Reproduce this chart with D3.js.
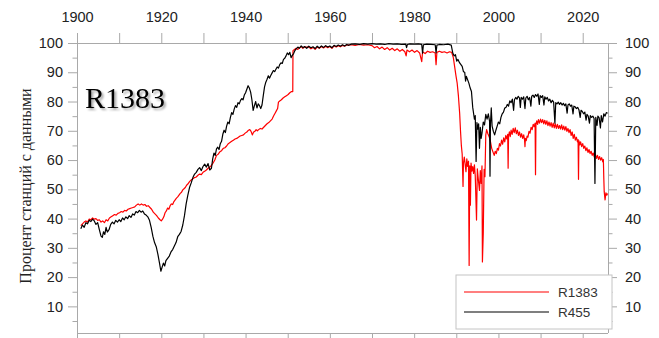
<!DOCTYPE html>
<html><head><meta charset="utf-8">
<script src="https://cdn.jsdelivr.net/npm/d3@7"></script>
<style>
html,body{margin:0;padding:0;background:#fff;}
svg{display:block;}
</style>
</head><body>
<svg id="chart" width="659" height="338"></svg>
<script>
// ---- data ----
const yearsR455 = [1900.9,1901.3,1901.7,1902.1,1902.5,1902.9,1903.3,1903.7,1904.1,1904.5,1904.9,1905.3,1905.7,1906.0,1906.3,1906.6,1906.9,1907.2,1907.6,1908.0,1908.4,1908.8,1909.2,1909.6,1910.0,1910.4,1910.8,1911.2,1911.6,1912.0,1912.4,1912.8,1913.2,1913.6,1914.0,1914.4,1914.8,1915.2,1915.6,1916.0,1916.4,1916.8,1917.2,1917.6,1918.0,1918.4,1918.8,1919.2,1919.6,1919.9,1920.2,1920.5,1920.8,1921.1,1921.5,1921.9,1922.3,1922.7,1923.1,1923.5,1923.9,1924.3,1924.7,1925.1,1925.5,1925.9,1926.3,1926.7,1927.1,1927.5,1927.9,1928.3,1928.7,1929.1,1929.5,1929.9,1930.3,1930.7,1931.1,1931.5,1931.9,1932.2,1932.5,1932.8,1933.1,1933.4,1933.7,1934.0,1934.3,1934.6,1934.9,1935.2,1935.5,1935.8,1936.1,1936.4,1936.7,1937.0,1937.3,1937.6,1937.9,1938.2,1938.5,1938.8,1939.1,1939.4,1939.7,1940.0,1940.3,1940.6,1940.9,1941.2,1941.5,1941.8,1942.1,1942.4,1942.7,1943.0,1943.3,1943.6,1943.9,1944.2,1944.5,1944.8,1945.1,1945.4,1945.7,1946.0,1946.3,1946.6,1946.9,1947.2,1947.5,1947.8,1948.1,1948.4,1948.7,1949.0,1949.3,1949.6,1949.9,1950.2,1950.5,1950.8,1951.1,1951.4,1951.7,1952.0,1952.4,1952.8,1953.2,1953.6,1954.0,1954.5,1955.0,1955.5,1956.0,1956.5,1957.0,1957.5,1958.0,1958.5,1959.0,1959.5,1960.0,1960.5,1961.0,1961.5,1962.0,1962.5,1963.0,1963.5,1964.0,1964.5,1965.0,1966,1967,1968,1969,1970,1971,1972,1973,1974,1975,1976,1977,1978,1978.2,1978.4,1979,1980,1981,1981.8,1982.0,1982.2,1983,1984,1985.0,1985.2,1985.4,1986,1987,1988,1988.8,1989.2,1989.5,1989.8,1990.1,1990.4,1990.8,1991.1,1991.4,1991.7,1992.0,1992.2,1992.4,1992.7,1993.0,1993.3,1993.6,1993.9,1994.1,1994.3,1994.5,1994.7,1994.9,1995.1,1995.3,1995.5,1995.7,1995.9,1996.1,1996.4,1996.7,1997.0,1997.3,1997.6,1997.9,1998.0,1998.1,1998.3,1998.5,1998.8,1999.1,1999.4,1999.7,2000.0,2000.3,2000.6,2000.9,2001.2,2001.5,2001.8,2002.1,2002.4,2002.7,2003.0,2003.3,2003.6,2003.8,2004.1,2004.4,2004.7,2005.0,2005.2,2005.4,2005.7,2006.0,2006.3,2006.5,2006.8,2007.1,2007.4,2007.7,2007.9,2008.2,2008.5,2008.8,2009.1,2009.4,2009.7,2009.9,2010.2,2010.5,2010.8,2011.0,2011.3,2011.6,2011.9,2012.2,2012.5,2012.8,2013.1,2013.4,2013.6,2013.9,2014.2,2014.5,2014.8,2015.1,2015.4,2015.7,2016.0,2016.3,2016.5,2016.8,2017.1,2017.4,2017.7,2017.9,2018.2,2018.5,2018.8,2019.1,2019.4,2019.6,2019.9,2020.2,2020.5,2020.8,2021.0,2021.3,2021.6,2021.8,2022.1,2022.4,2022.7,2022.9,2023.1,2023.4,2023.6,2023.9,2024.2,2024.4,2024.7,2025.0,2025.3,2025.6,2025.9];
const valuesR455 = [36.5,37.8,37.0,38.6,38.2,39.4,39.0,39.8,39.2,38.0,38.6,36.2,34.0,33.6,35.5,34.6,37.0,35.4,36.2,38.0,38.8,38.2,39.4,38.8,39.6,39.0,40.2,39.6,40.6,40.0,41.0,40.4,41.6,41.2,42.4,42.0,42.8,42.2,42.6,41.6,41.2,40.6,39.4,37.0,34.0,31.8,30.4,27.8,24.6,22.0,23.4,24.8,23.8,25.6,26.4,27.2,28.6,29.4,30.6,31.8,33.8,34.6,35.6,37.8,41.0,45.0,48.0,50.6,52.2,54.0,55.2,55.8,56.8,57.4,56.4,57.8,58.6,57.6,58.8,56.6,57.2,60.4,62.4,61.6,63.8,64.4,63.6,65.6,66.4,68.8,70.2,69.4,71.6,73.0,72.4,74.6,76.2,75.6,77.4,78.6,78.0,79.6,79.2,80.4,81.0,80.6,82.2,83.0,84.2,85.4,84.6,83.2,80.6,77.0,78.6,80.0,77.8,79.2,78.6,77.6,78.8,82.0,85.0,86.6,87.6,88.8,88.0,89.0,89.8,90.6,90.2,91.0,91.8,91.4,92.6,93.2,93.0,94.4,94.8,95.6,96.6,96.0,96.8,95.0,95.8,96.4,97.4,98.0,98.6,98.2,99.0,98.4,98.8,98.2,98.9,98.4,98.7,98.1,98.9,98.3,99.0,98.5,99.1,98.6,99.0,98.4,99.2,98.8,99.3,98.9,99.4,99.0,99.5,99.2,99.6,99.7,99.5,99.8,99.6,99.8,99.6,99.7,99.5,99.8,99.6,99.7,99.5,99.6,98.4,99.5,99.7,99.6,99.7,99.5,96.5,99.4,99.6,99.5,99.4,96.6,99.3,99.5,99.4,99.6,99.3,96.4,95.6,96.0,93.8,94.4,93.2,92.6,92.0,90.2,90.0,87.0,88.6,87.4,86.2,84.6,83.4,78.0,76.0,74.0,75.2,59.5,72.8,70.6,72.4,64.0,71.2,67.4,69.2,73.0,72.0,75.6,74.0,75.8,73.2,54.5,72.0,77.8,71.6,69.8,68.6,70.2,71.6,73.0,72.4,74.6,75.8,76.4,77.8,78.0,79.0,78.4,80.2,79.6,80.8,77.0,80.6,81.4,80.8,81.8,81.2,78.0,81.4,80.8,81.6,77.6,81.2,81.8,80.6,81.4,78.4,81.8,82.2,81.4,82.4,81.8,82.6,79.0,82.0,81.4,82.0,78.8,81.6,80.8,81.4,80.2,80.8,79.6,80.4,79.8,72.6,79.6,79.2,79.8,79.0,79.6,78.8,79.4,78.6,79.2,76.0,78.8,79.2,78.4,78.8,75.8,78.4,78.2,77.6,78.0,77.2,74.6,77.0,76.6,75.8,76.4,73.6,75.6,75.0,72.6,75.2,74.6,75.0,74.2,52.0,74.6,71.8,75.0,74.4,71.0,75.2,73.0,75.8,75.0,76.2,76.0];

const yearsR1383 = [1900.9,1901.3,1901.7,1902.1,1902.5,1902.9,1903.3,1903.7,1904.1,1904.5,1904.9,1905.3,1905.7,1906.1,1906.5,1906.9,1907.3,1907.7,1908.1,1908.5,1908.9,1909.3,1909.7,1910.1,1910.5,1910.9,1911.3,1911.7,1912.1,1912.5,1912.9,1913.3,1913.7,1914.1,1914.5,1914.9,1915.3,1915.7,1916.1,1916.5,1916.9,1917.3,1917.7,1918.1,1918.5,1918.9,1919.3,1919.7,1920.0,1920.3,1920.6,1920.9,1921.2,1921.5,1921.8,1922.1,1922.4,1922.7,1923.0,1923.3,1923.6,1923.9,1924.2,1924.5,1924.8,1925.1,1925.4,1925.7,1926.0,1926.3,1926.7,1927.1,1927.5,1927.9,1928.3,1928.7,1929.1,1929.5,1929.9,1930.3,1930.7,1931.1,1931.5,1931.9,1932.3,1932.7,1933.1,1933.5,1933.9,1934.3,1934.7,1935.1,1935.5,1935.9,1936.3,1936.7,1937.1,1937.5,1937.9,1938.3,1938.7,1939.1,1939.5,1939.9,1940.3,1940.7,1941.0,1941.3,1941.6,1941.9,1942.2,1942.5,1942.8,1943.1,1943.5,1943.9,1944.3,1944.7,1945.1,1945.5,1945.9,1946.3,1946.7,1947.0,1947.3,1947.6,1947.8,1948.1,1948.5,1948.9,1949.3,1949.7,1950.1,1950.5,1950.9,1951.2,1951.25,1951.6,1952.0,1952.4,1952.8,1953.2,1953.6,1954.0,1955,1955.5,1956,1956.5,1957,1957.5,1958,1958.5,1959,1959.5,1960,1960.5,1961,1961.5,1962,1962.5,1963,1963.5,1964,1965,1966,1967,1968,1969,1970,1970.6,1971.2,1971.8,1972.4,1973,1973.6,1974.2,1974.8,1975.4,1976,1976.6,1977.2,1977.8,1978.1,1978.3,1978.9,1979.5,1980.1,1980.7,1981.3,1981.8,1982.0,1982.6,1983.2,1983.8,1984.4,1985.0,1985.2,1985.4,1986,1986.6,1987.2,1987.8,1988.4,1988.9,1989.3,1989.6,1989.9,1990.2,1990.5,1990.8,1991.0,1991.2,1991.4,1991.6,1991.7,1991.9,1992.1,1992.3,1992.5,1992.7,1992.9,1993.05,1993.2,1993.35,1993.5,1993.7,1993.9,1994.1,1994.3,1994.5,1994.8,1995.0,1995.2,1995.5,1995.7,1995.9,1996.1,1996.2,1996.4,1996.6,1996.8,1997.0,1997.2,1997.5,1997.8,1998.1,1998.4,1998.7,
1999.0,1999.25,1999.5,1999.75,2000.0,2000.25,2000.5,2000.75,2001.0,2001.25,2001.5,2001.75,2002.0,2002.2,2002.3,2002.4,2002.6,2002.8,2003.0,2003.25,2003.5,2003.75,2004.0,2004.25,2004.5,2004.75,2005.0,2005.25,2005.5,2005.75,2006.0,2006.2,2006.3,2006.4,2006.6,2006.8,2007.0,2007.25,2007.5,2007.75,2008.0,2008.25,2008.5,2008.7,2008.8,2008.9,2009.1,2009.3,2009.5,2009.75,2010.0,2010.25,2010.5,2010.75,2011.0,2011.25,2011.5,2011.75,2012.0,2012.25,2012.5,2012.75,2013.0,2013.25,2013.5,2013.75,2014.0,2014.25,2014.5,2014.75,2015.0,2015.25,2015.5,2015.75,2016.0,2016.25,2016.5,2016.75,2017.0,2017.25,2017.5,2017.75,2018.0,2018.25,2018.5,2018.75,2018.9,2019.0,2019.1,2019.3,2019.5,2019.75,2020.0,2020.25,2020.5,2020.75,2021.0,2021.25,2021.5,2021.75,2022.0,2022.25,2022.5,2022.75,2023.0,2023.25,2023.5,2023.75,2024.0,2024.25,2024.5,2024.75,2024.9,2025.0,2025.1,2025.3,2025.5,2025.7,2025.9];
const valuesR1383 = [37.6,38.2,38.8,39.2,38.8,39.8,39.6,40.2,39.8,40.0,39.4,39.6,38.8,39.2,38.6,39.6,39.2,40.2,40.6,41.0,41.4,41.2,41.8,42.0,42.4,42.2,42.8,42.6,43.2,43.4,43.6,43.8,44.0,44.6,45.0,44.6,45.0,44.6,44.8,44.2,44.4,43.8,43.2,42.2,41.6,41.0,40.2,39.6,39.2,39.8,40.6,42.0,42.6,43.6,43.2,44.4,45.0,44.8,45.8,46.4,47.0,47.4,48.0,48.6,49.0,49.8,50.2,50.6,51.4,51.8,52.6,53.2,53.6,54.0,54.2,54.8,55.2,55.0,55.8,56.2,56.6,57.2,57.6,58.2,59.0,60.0,61.6,62.0,62.8,63.2,64.0,64.2,64.8,65.6,66.0,66.4,66.8,67.2,67.4,67.8,68.2,68.4,68.6,69.2,69.6,70.2,70.4,69.8,68.6,69.6,69.8,70.4,70.0,70.4,70.8,70.6,71.2,71.8,72.4,72.8,73.4,74.0,75.2,76.0,76.8,77.6,79.8,80.2,80.6,81.2,81.6,82.0,82.4,83.0,83.4,83.4,97.4,97.8,98.2,97.8,98.4,98.8,98.2,98.6,98.6,98.0,98.5,97.8,98.6,98.2,98.8,98.3,98.9,98.4,98.8,98.2,99.0,98.6,99.1,98.7,99.2,98.9,99.3,99.4,99.2,99.5,99.3,99.4,99.1,98.4,98.8,98.0,98.6,97.8,98.4,97.6,98.2,97.4,98.0,97.2,97.8,97.0,95.6,97.6,97.0,97.6,96.8,97.4,96.6,93.6,97.0,96.4,97.2,96.8,97.0,96.6,92.6,96.8,97.2,96.8,97.0,96.6,97.0,96.8,95.0,92.0,89.0,86.4,82.0,76.0,70.0,65.0,62.0,51.0,59.0,61.0,58.6,56.0,60.4,57.8,59.6,24.0,58.0,44.6,59.0,56.2,57.8,55.4,58.4,54.6,39.5,57.0,53.8,49.6,56.4,52.0,58.0,25.2,34.9,56.8,54.3,68.6,70.4,69.0,68.0,66.4,64.0,62.8,
61.6,63.0,62.2,64.0,63.4,65.6,64.8,66.8,65.4,67.6,66.2,68.4,67.2,68.8,57.2,68.2,69.6,68.0,70.2,68.8,70.8,69.4,71.0,69.0,70.2,68.4,69.6,67.8,69.0,67.4,68.6,66.8,64.6,67.4,66.6,68.2,67.8,69.8,69.2,71.2,70.4,72.2,71.4,72.6,55.0,72.0,73.4,72.2,73.8,72.6,74.0,72.8,73.8,72.4,73.6,72.2,73.4,71.8,73.0,71.6,72.8,71.2,72.6,71.0,72.4,70.8,72.2,70.8,71.8,70.6,72.0,70.4,71.6,70.2,71.4,69.8,70.8,69.4,70.4,68.4,69.6,67.4,68.8,66.8,67.8,66.2,67.0,53.4,66.6,65.2,66.2,64.6,65.6,64.0,64.8,63.2,64.2,62.6,63.6,62.2,63.0,61.6,62.4,61.0,62.0,60.6,61.6,60.2,61.2,60.0,60.8,59.4,60.2,54.0,49.2,46.4,48.8,48.0,48.6];

const seriesNames = ["R1383", "R455"];
const seriesColors = ["#ff0000", "#000000"];
const xTickYears = [1900,1910,1920,1930,1940,1950,1960,1970,1980,1990,2000,2010,2020];
const xLabelYears = [1900,1920,1940,1960,1980,2000,2020];
const yMajorTicks = [10,20,30,40,50,60,70,80,90,100];
const yMinorTicks = [5,15,25,35,45,55,65,75,85,95];
const yTitle = "Процент станций с данными";
const panelLabel = "R1383";

// ---- layout ----
const svg = d3.select("#chart");
const L = 77, R = 608, T = 43, B = 333;
const x = d3.scaleLinear().domain([1900, 2026]).range([L, R]);
const y = d3.scaleLinear().domain([0.9, 100]).range([B, T]);
const gray = "#a9a9a9";
const tickFont = "'Liberation Sans', Arial, sans-serif";

const defs = svg.append("defs");
const f = defs.append("filter").attr("id","sh").attr("x","-10%").attr("y","-10%").attr("width","130%").attr("height","140%");
f.append("feDropShadow").attr("dx",2).attr("dy",2).attr("stdDeviation",1.3).attr("flood-color","#000").attr("flood-opacity",0.35);

// frame
const frame = svg.append("g").attr("stroke", gray).attr("stroke-width", 1).attr("fill","none");
frame.append("line").attr("x1",L).attr("x2",R).attr("y1",T+0.5).attr("y2",T+0.5);
frame.append("line").attr("x1",L).attr("x2",R).attr("y1",B+0.5).attr("y2",B+0.5);
frame.append("line").attr("x1",L+0.5).attr("x2",L+0.5).attr("y1",T).attr("y2",B);
frame.append("line").attr("x1",R+0.5).attr("x2",R+0.5).attr("y1",T).attr("y2",B);

// top axis
const topAx = d3.axisTop(x).tickValues(xTickYears).tickSize(10).tickFormat(d => xLabelYears.includes(d) ? d : "");
const gTop = svg.append("g").attr("transform",`translate(0,${T})`).call(topAx);
// bottom axis ticks
const botAx = d3.axisBottom(x).tickValues(xTickYears).tickSize(10).tickFormat("");
const gBot = svg.append("g").attr("transform",`translate(0,${B})`).call(botAx);
// left axis
const leftAx = d3.axisLeft(y).tickValues(yMajorTicks).tickSize(9).tickPadding(5);
const gLeft = svg.append("g").attr("transform",`translate(${L},0)`).call(leftAx);
const leftMin = d3.axisLeft(y).tickValues(yMinorTicks).tickSize(4.5).tickFormat("");
const gLeftMin = svg.append("g").attr("transform",`translate(${L},0)`).call(leftMin);
// right axis
const rightAx = d3.axisRight(y).tickValues(yMajorTicks).tickSize(9).tickPadding(8);
const gRight = svg.append("g").attr("transform",`translate(${R},0)`).call(rightAx);
const rightMin = d3.axisRight(y).tickValues(yMinorTicks).tickSize(4.5).tickFormat("");
const gRightMin = svg.append("g").attr("transform",`translate(${R},0)`).call(rightMin);

[gTop,gBot,gLeft,gLeftMin,gRight,gRightMin].forEach(g => {
  g.select(".domain").remove();
  g.selectAll(".tick line").attr("stroke", gray);
  g.selectAll(".tick text").attr("fill","#222").style("font-family", tickFont).style("font-size","14.5px");
});
gTop.selectAll(".tick text").attr("dy", 0).attr("y", -21);

// series
const line = d3.line().x(d => x(d[0])).y(d => y(d[1]));
const dataRed = yearsR1383.map((yr,i) => [yr, valuesR1383[i]]);
const dataBlack = yearsR455.map((yr,i) => [yr, valuesR455[i]]);
const allData = [dataRed, dataBlack];
svg.append("g").selectAll("path").data(allData).join("path")
  .attr("d", line).attr("fill","none")
  .attr("stroke", (d,i) => seriesColors[i])
  .attr("stroke-width", 1.2).attr("stroke-linejoin","round");

// panel label
svg.append("text").attr("x", 85).attr("y", 108)
  .style("font-family","'Liberation Serif','Times New Roman',serif").style("font-size","30px")
  .attr("fill","#000").attr("filter","url(#sh)").text(panelLabel);

// y title
svg.append("text").attr("transform", "translate(31,186) rotate(-90)")
  .attr("text-anchor","middle")
  .style("font-family","'Liberation Serif','Times New Roman',serif").style("font-size","16px")
  .attr("fill","#222").text(yTitle);

// legend
const lg = svg.append("g");
lg.append("rect").attr("x",456).attr("y",275).attr("width",156).attr("height",54)
  .attr("fill","#fff").attr("stroke","#c4c4c4").attr("stroke-width",1);
seriesNames.forEach((n,i) => {
  const yy = 292 + i*20;
  lg.append("line").attr("x1",464).attr("x2",549).attr("y1",yy).attr("y2",yy)
    .attr("stroke", seriesColors[i]).attr("stroke-width",1.2);
  lg.append("text").attr("x",558).attr("y",yy+5).text(n)
    .style("font-family", tickFont).style("font-size","13.5px").attr("fill","#333");
});
</script>
</body></html>
